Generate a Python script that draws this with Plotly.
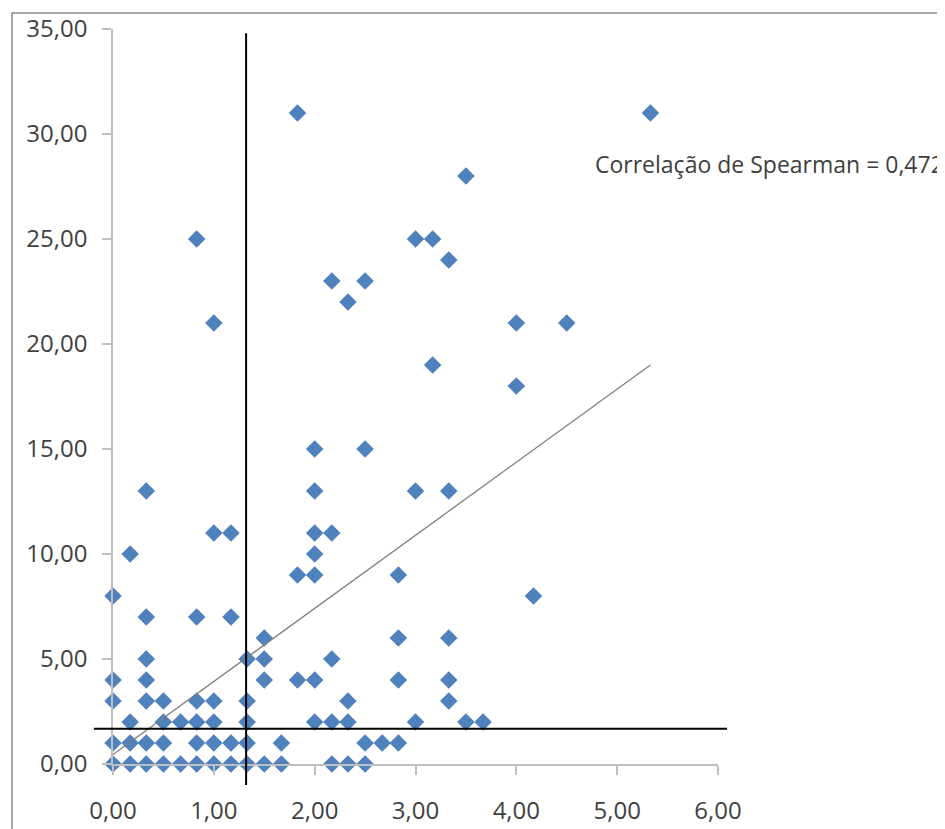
import plotly.graph_objects as go

# ---- data ----
x_vals = [
    0, 0, 0, 0, 0,
    0.17, 0.17, 0.17, 0.17,
    0.33, 0.33, 0.33, 0.33, 0.33, 0.33, 0.33,
    0.5, 0.5, 0.5, 0.5,
    0.67, 0.67,
    0.83, 0.83, 0.83, 0.83, 0.83, 0.83,
    1.0, 1.0, 1.0, 1.0, 1.0, 1.0,
    1.17, 1.17, 1.17, 1.17,
    1.33, 1.33, 1.33, 1.33, 1.33,
    1.5, 1.5, 1.5, 1.5,
    1.67, 1.67,
    1.83, 1.83, 1.83,
    2.0, 2.0, 2.0, 2.0, 2.0, 2.0, 2.0,
    2.17, 2.17, 2.17, 2.17, 2.17,
    2.33, 2.33, 2.33, 2.33,
    2.5, 2.5, 2.5, 2.5,
    2.67,
    2.83, 2.83, 2.83, 2.83,
    3.0, 3.0, 3.0,
    3.17, 3.17,
    3.33, 3.33, 3.33, 3.33, 3.33,
    3.5, 3.5,
    3.67,
    4.0, 4.0,
    4.17,
    4.5,
    5.33,
]
y_vals = [
    0, 1, 3, 4, 8,
    0, 1, 2, 10,
    0, 1, 3, 4, 5, 7, 13,
    0, 1, 2, 3,
    0, 2,
    0, 1, 2, 3, 7, 25,
    0, 1, 2, 3, 11, 21,
    0, 1, 7, 11,
    0, 1, 2, 3, 5,
    0, 4, 5, 6,
    0, 1,
    4, 9, 31,
    2, 4, 9, 10, 11, 13, 15,
    0, 2, 5, 11, 23,
    0, 2, 3, 22,
    0, 1, 15, 23,
    1,
    1, 4, 6, 9,
    2, 13, 25,
    19, 25,
    3, 4, 6, 13, 24,
    2, 28,
    2,
    18, 21,
    8,
    21,
    31,
]

# linear trend line
trend_intercept = 0.45
trend_slope = 3.48
trend_x = [0, 5.33]

# reference (median) lines drawn on the chart
vline_x = 1.32
vline_y_span = [-1.0, 34.8]
hline_y = 1.68
hline_x_span = [-0.19, 6.09]

x_ticks = [0, 1, 2, 3, 4, 5, 6]
y_ticks = [0, 5, 10, 15, 20, 25, 30, 35]
x_range = [0, 6]
y_range = [0, 35]

annotation_text = "Correlação de Spearman = 0,472"

# ---- figure ----
W, H = 945, 829
ML, MR, MT, MB = 105, 235, 21, 73

def px(x):
    return (x - x_range[0]) / (x_range[1] - x_range[0])

def py(y):
    return (y - y_range[0]) / (y_range[1] - y_range[0])

fig = go.Figure()
fig.add_trace(go.Scatter(
    x=x_vals, y=y_vals, mode="markers",
    marker=dict(symbol="diamond", size=13.5, color="#4F81BD", line=dict(width=0)),
    cliponaxis=False, showlegend=False, hoverinfo="x+y",
))
fig.add_trace(go.Scatter(
    x=trend_x, y=[trend_intercept + trend_slope * v for v in trend_x],
    mode="lines", line=dict(color="#7F7F7F", width=1.3),
    showlegend=False, hoverinfo="skip",
))

font = dict(family="Open Sans", size=24, color="#404040")
fig.update_xaxes(
    range=x_range, tickvals=x_ticks, tickformat=".2f", automargin=False,
    showline=True, linecolor="#BFBFBF", linewidth=1.5,
    ticks="outside", ticklen=9, tickcolor="#BFBFBF", tickwidth=1.5,
    showgrid=False, zeroline=False, tickfont=font, ticklabelstandoff=15,
)
fig.update_yaxes(
    range=y_range, tickvals=y_ticks, tickformat=".2f", automargin=False,
    showline=True, linecolor="#BFBFBF", linewidth=1.5,
    ticks="outside", ticklen=9, tickcolor="#BFBFBF", tickwidth=1.5,
    showgrid=False, zeroline=False, tickfont=font, ticklabelstandoff=10,
)

pw = W - ML - MR
ph = H - MT - MB
shapes = [
    # outer chart border
    dict(type="rect", xref="paper", yref="paper",
         x0=(4 - ML) / pw, x1=(W + 20 - ML) / pw,
         y0=(H - MB - 5) / ph, y1=(H - MB - (H + 20)) / ph,
         line=dict(color="#8C8C8C", width=1.5), fillcolor="rgba(0,0,0,0)", layer="below"),
    # vertical median line
    dict(type="line", xref="paper", yref="paper",
         x0=px(vline_x), x1=px(vline_x), y0=py(vline_y_span[0]), y1=py(vline_y_span[1]),
         line=dict(color="#000000", width=2)),
    # horizontal median line
    dict(type="line", xref="paper", yref="paper",
         x0=px(hline_x_span[0]), x1=px(hline_x_span[1]), y0=py(hline_y), y1=py(hline_y),
         line=dict(color="#000000", width=2)),
]

fig.update_layout(
    width=W, height=H,
    margin=dict(l=ML, r=MR, t=MT, b=MB, pad=0, autoexpand=False),
    paper_bgcolor="white", plot_bgcolor="white",
    separators=",.",
    shapes=shapes,
    annotations=[dict(
        text=annotation_text, xref="paper", yref="paper",
        x=(585 - ML) / pw, y=(H - MB - 156) / ph, xanchor="left", yanchor="middle",
        showarrow=False, font=dict(family="Open Sans", size=23, color="#404040"),
    )],
)

fig.write_html("out.html")
